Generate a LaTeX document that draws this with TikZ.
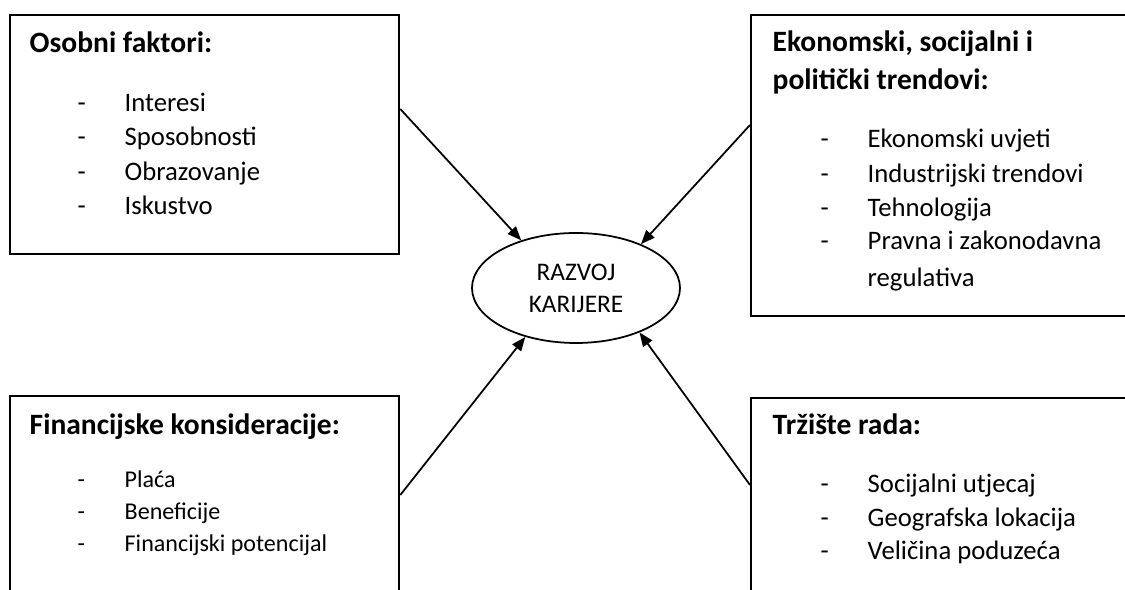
\documentclass[tikz,border=0pt]{standalone}
\usepackage{fontspec}
\setmainfont{Carlito}
\usetikzlibrary{shapes.geometric,arrows.meta}
\newcommand{\boxhead}{\fontsize{8.4pt}{10pt}\selectfont\bfseries}
\newcommand{\boxitem}{\fontsize{7.6pt}{9pt}\selectfont}
\newcommand{\crt}{\makebox[0.47cm][l]{-}}

\begin{document}
\begin{tikzpicture}[
		frame/.style={draw, line width=0.65pt, inner sep=0pt, anchor=north west},
		head/.style={anchor=base west, inner sep=0pt, font=\boxhead},
		item/.style={anchor=base west, inner sep=0pt, font=\boxitem},
		small item/.style={item, font=\fontsize{6.85pt}{8pt}\selectfont},
		career/.style={ellipse, draw, line width=0.5pt, inner sep=0pt,
			minimum width=2.08cm, minimum height=1.10cm, align=center,
			font=\fontsize{7.2pt}{9.1pt}\selectfont},
		link/.style={-{Triangle[length=0.14cm,width=0.11cm]}, line width=0.5pt}
	]
	\useasboundingbox (0,0) rectangle (11.25,-5.90);
	\clip (0,0) rectangle (11.25,-5.90);
	% okviri
	\node[frame, minimum width=3.89cm, minimum height=2.39cm] (osobni) at (0.09,-0.14) {};
	\node[frame, minimum width=4.00cm, minimum height=3.01cm] (trendovi) at (7.50,-0.14) {};
	\node[frame, minimum width=3.89cm, minimum height=2.40cm] (financije) at (0.09,-3.95) {};
	\node[frame, minimum width=4.00cm, minimum height=2.40cm] (trziste) at (7.50,-3.97) {};
	% osobni faktori
	\node[head] (o0) at (0.29,-0.53) {Osobni faktori:};
	\node[item] (o1) at (0.77,-1.12) {\crt Interesi};
	\node[item] (o2) at (0.77,-1.46) {\crt Sposobnosti};
	\node[item] (o3) at (0.77,-1.81) {\crt Obrazovanje};
	\node[item] (o4) at (0.77,-2.15) {\crt Iskustvo};
	% trendovi
	\node[head] (t0) at (7.72,-0.52) {Ekonomski, socijalni i};
	\node[head] (t0b) at (7.72,-0.90) {politički trendovi:};
	\node[item] (t1) at (8.20,-1.48) {\crt Ekonomski uvjeti};
	\node[item] (t2) at (8.20,-1.83) {\crt Industrijski trendovi};
	\node[item] (t3) at (8.20,-2.17) {\crt Tehnologija};
	\node[item] (t4) at (8.20,-2.50) {\crt Pravna i zakonodavna};
	\node[item] (t4b) at (8.67,-2.87) {regulativa};
	% financije
	\node[head] (f0) at (0.29,-4.35) {Financijske konsideracije:};
	\node[small item] (f1) at (0.77,-4.88) {\crt Plaća};
	\node[small item] (f2) at (0.77,-5.20) {\crt Beneficije};
	\node[small item] (f3) at (0.77,-5.52) {\crt Financijski potencijal};
	% trziste rada
	\node[head] (r0) at (7.72,-4.35) {Tržište rada:};
	\node[item] (r1) at (8.20,-4.93) {\crt Socijalni utjecaj};
	\node[item] (r2) at (8.20,-5.27) {\crt Geografska lokacija};
	\node[item] (r3) at (8.20,-5.60) {\crt Veličina poduzeća};
	% sredina
	\node[career] (razvoj) at (5.76,-2.88) {RAZVOJ\\KARIJERE};
	\draw[link] ([yshift=-0.95cm]osobni.north east) -- (razvoj.139);
	\draw[link] ([yshift=-1.11cm]trendovi.north west) -- (razvoj.34);
	\draw[link] ([yshift=-1.00cm]financije.north east) -- (razvoj.224);
	\draw[link] ([yshift=-0.88cm]trziste.north west) -- (razvoj.-35);
\end{tikzpicture}
\end{document}
